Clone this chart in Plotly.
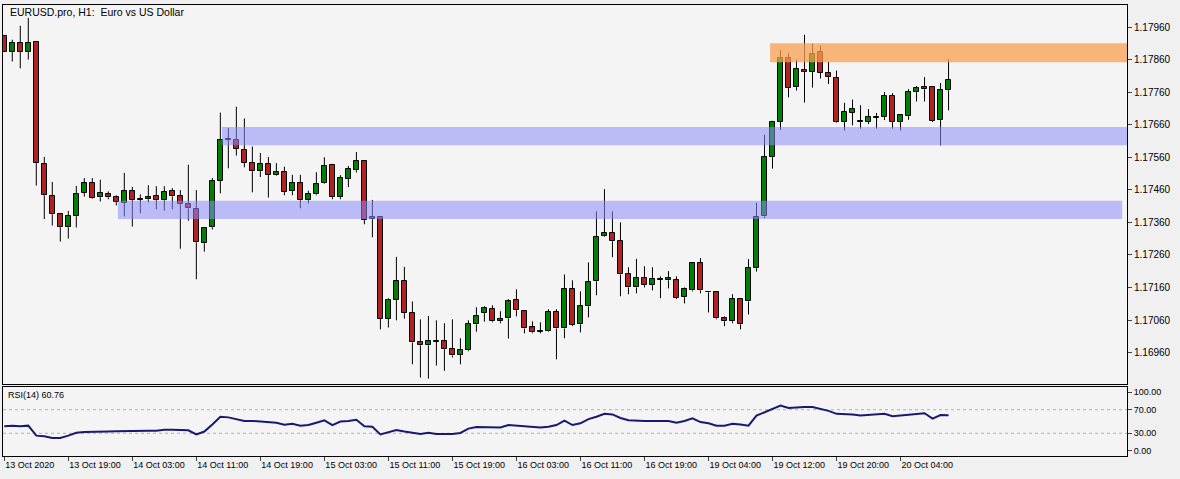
import plotly.graph_objects as go

opens = [1.17933,1.17883,1.17911,1.17883,1.17914,1.17539,1.17440,1.17385,1.17345,1.17379,
1.17450,1.17480,1.17437,1.17446,1.17437,1.17419,1.17456,1.17431,1.17431,1.17440,
1.17428,1.17456,1.17440,1.17416,1.17400,1.17296,1.17345,1.17488,1.17613,1.17613,
1.17582,1.17542,1.17517,1.17540,1.17505,1.17514,1.17456,1.17480,1.17428,1.17446,
1.17480,1.17537,1.17437,1.17493,1.17520,1.17548,1.17376,1.17376,1.17063,1.17121,
1.17179,1.17081,1.16991,1.16982,1.16994,1.16994,1.16970,1.16954,1.16967,1.17047,
1.17081,1.17093,1.17056,1.17065,1.17121,1.17087,1.17037,1.17025,1.17025,1.17084,
1.17034,1.17154,1.17047,1.17102,1.17179,1.17317,1.17327,1.17302,1.17200,1.17160,
1.17188,1.17167,1.17185,1.17182,1.17182,1.17130,1.17151,1.17234,1.17147,1.17145,
1.17065,1.17056,1.17124,1.17117,1.17219,1.17378,1.17560,1.17668,1.17865,1.17775,
1.17829,1.17822,1.17883,1.17819,1.17803,1.17668,1.17696,1.17671,1.17668,1.17683,
1.17683,1.17748,1.17668,1.17686,1.17760,1.17769,1.17775,1.17674,1.17766]
highs = [1.17935,1.17921,1.17964,1.17988,1.17914,1.17561,1.17484,1.17387,1.17395,1.17472,
1.17496,1.17496,1.17491,1.17455,1.17443,1.17512,1.17469,1.17446,1.17474,1.17471,
1.17471,1.17465,1.17459,1.17537,1.17459,1.17344,1.17496,1.17697,1.17650,1.17715,
1.17679,1.17593,1.17573,1.17561,1.17542,1.17531,1.17506,1.17506,1.17457,1.17514,
1.17560,1.17540,1.17505,1.17533,1.17576,1.17550,1.17429,1.17378,1.17127,1.17254,
1.17223,1.17117,1.17062,1.17072,1.17059,1.17050,1.17062,1.17004,1.17059,1.17099,
1.17102,1.17105,1.17087,1.17124,1.17154,1.17089,1.17056,1.17053,1.17093,1.17093,
1.17200,1.17182,1.17148,1.17237,1.17394,1.17462,1.17394,1.17360,1.17222,1.17248,
1.17225,1.17222,1.17194,1.17210,1.17194,1.17160,1.17236,1.17250,1.17148,1.17147,
1.17071,1.17139,1.17126,1.17247,1.17420,1.17629,1.17672,1.17890,1.17880,1.17860,
1.17936,1.17909,1.17903,1.17853,1.17826,1.17727,1.17737,1.17720,1.17708,1.17696,
1.17760,1.17757,1.17692,1.17769,1.17779,1.17806,1.17777,1.17788,1.17862]
lows = [1.17883,1.17854,1.17833,1.17860,1.17473,1.17370,1.17350,1.17301,1.17310,1.17344,
1.17439,1.17432,1.17424,1.17431,1.17412,1.17378,1.17347,1.17388,1.17421,1.17400,
1.17396,1.17400,1.17279,1.17365,1.17185,1.17270,1.17338,1.17449,1.17526,1.17565,
1.17529,1.17452,1.17499,1.17436,1.17503,1.17443,1.17443,1.17403,1.17418,1.17443,
1.17478,1.17431,1.17431,1.17468,1.17513,1.17354,1.17314,1.17031,1.17037,1.17059,
1.17064,1.16924,1.16883,1.16880,1.16920,1.16904,1.16945,1.16924,1.16964,1.17024,
1.17055,1.17053,1.17050,1.17003,1.17071,1.17019,1.17019,1.17019,1.17023,1.16939,
1.17004,1.17041,1.17022,1.17068,1.17136,1.17315,1.17253,1.17133,1.17139,1.17142,
1.17160,1.17151,1.17127,1.17157,1.17124,1.17111,1.17148,1.17142,1.17083,1.17062,
1.17041,1.17050,1.17031,1.17077,1.17209,1.17373,1.17525,1.17644,1.17744,1.17765,
1.17728,1.17774,1.17802,1.17785,1.17666,1.17642,1.17658,1.17648,1.17662,1.17648,
1.17674,1.17648,1.17642,1.17675,1.17731,1.17731,1.17668,1.17596,1.17704]
closes = [1.17883,1.17911,1.17883,1.17911,1.17542,1.17443,1.17385,1.17345,1.17379,1.17446,
1.17480,1.17434,1.17450,1.17437,1.17422,1.17456,1.17428,1.17430,1.17437,1.17428,
1.17453,1.17440,1.17416,1.17403,1.17299,1.17342,1.17486,1.17613,1.17616,1.17585,
1.17542,1.17517,1.17540,1.17505,1.17514,1.17453,1.17480,1.17428,1.17446,1.17477,
1.17534,1.17437,1.17496,1.17523,1.17548,1.17367,1.17370,1.17063,1.17121,1.17179,
1.17081,1.16991,1.16982,1.16994,1.16993,1.16970,1.16951,1.16967,1.17047,1.17071,
1.17096,1.17056,1.17062,1.17117,1.17090,1.17034,1.17022,1.17024,1.17084,1.17034,
1.17154,1.17044,1.17102,1.17176,1.17314,1.17327,1.17302,1.17200,1.17160,1.17188,
1.17167,1.17185,1.17184,1.17188,1.17127,1.17154,1.17234,1.17151,1.17145,1.17065,
1.17056,1.17124,1.17047,1.17219,1.17376,1.17560,1.17668,1.17865,1.17772,1.17831,
1.17822,1.17877,1.17819,1.17806,1.17668,1.17699,1.17708,1.17668,1.17683,1.17682,
1.17748,1.17668,1.17689,1.17760,1.17772,1.17775,1.17671,1.17766,1.17797]
rsi = [42,43,42,43,26,25,22,22,26,31,32,32,32,33,33.5,34,34,34.5,34.5,34.5,
36,36,35,35,28,33,45,58,57,54,51,51,50,49.5,48,44.5,46,43,44,48,
52,44,50,51,53,42,41,28,32,35.5,33,30.5,29,31,29,29,29,30.5,38,40.5,
40,39.5,40,44,43,41,40,40,41,44,51.5,44,47,54,58,63,62,56,52,51,
51,51,51,51,48,51,55.5,49,47,43,43,46,45,43,60,66,71,77,73,74,
74.5,74.5,71,68,63,63,62,60,61,61.5,63,59,60,61.5,63,64,55,61,60.76]
xtick_pos = [0,8,16,24,32,40,48,56,64,72,80,88,96,104,112]
xtick_text = ["13 Oct 2020","13 Oct 19:00","14 Oct 03:00","14 Oct 11:00","14 Oct 19:00",
 "15 Oct 03:00","15 Oct 11:00","15 Oct 19:00","16 Oct 03:00","16 Oct 11:00",
 "16 Oct 19:00","19 Oct 04:00","19 Oct 12:00","19 Oct 20:00","20 Oct 04:00"]
price_ticks = [1.16960,1.17060,1.17160,1.17260,1.17360,1.17460,1.17560,1.17660,1.17760,1.17860,1.17960]
rsi_ticks = [0,30,70,100]

n = len(opens)
idx = list(range(n))
GREEN, RED = "#008000", "#b22222"

wx, wy = [], []
for i in idx:
    top, bot = max(opens[i], closes[i]), min(opens[i], closes[i])
    wx += [i, i, None, i, i, None]
    wy += [highs[i], top, None, bot, lows[i], None]

base = [min(o, c) for o, c in zip(opens, closes)]
hgt = [max(abs(c - o), 0.00002) for o, c in zip(opens, closes)]
cols = [GREEN if c >= o else RED for o, c in zip(opens, closes)]

fig = go.Figure()
fig.add_trace(go.Scatter(x=wx, y=wy, mode="lines", line=dict(color="black", width=1),
                         hoverinfo="skip", showlegend=False, xaxis="x", yaxis="y"))
fig.add_trace(go.Bar(x=idx, y=hgt, base=base, width=0.65, marker=dict(color=cols, line=dict(color="black", width=1)),
                     showlegend=False, xaxis="x", yaxis="y"))
fig.add_trace(go.Scatter(x=idx, y=rsi, mode="lines", line=dict(color="#191970", width=2),
                         showlegend=False, xaxis="x2", yaxis="y2"))

xr = [-0.16, 140.3]
L, R = 3/1180, 1127/1180
TF = dict(size=9, family="Liberation Sans", color="black")
fig.update_layout(
    width=1180, height=479, margin=dict(l=0, r=0, t=0, b=0, autoexpand=False),
    paper_bgcolor="#f0f0f0", plot_bgcolor="#f4f4f4",
    font=dict(family="Liberation Sans", size=10, color="black"),
    bargap=0,
    xaxis=dict(domain=[L, R], range=xr, anchor="y", showticklabels=False, showgrid=False, zeroline=False,
               showline=True, mirror=True, linecolor="black", linewidth=1, ticks="", automargin=False),
    yaxis=dict(domain=[1-384/479, 1-5/479], range=[1.168634, 1.180276], side="right", anchor="x",
               tickvals=price_ticks, ticktext=[f"{v:.5f}" for v in price_ticks], ticks="outside", ticklen=4,
               showgrid=False, zeroline=False, showline=True, mirror=True, linecolor="black",
               tickfont=dict(size=10, family="Liberation Sans"), automargin=False),
    xaxis2=dict(domain=[L, R], range=xr, anchor="y2", showgrid=False, zeroline=False,
                tickvals=xtick_pos, ticktext=xtick_text, ticks="outside", ticklen=4, tickangle=0,
                ticklabelposition="outside right", tickfont=TF, automargin=False,
                showline=True, mirror=True, linecolor="black"),
    yaxis2=dict(domain=[1-456/479, 1-387/479], range=[-8.5, 108.5], side="right", anchor="x2",
                tickvals=rsi_ticks, ticktext=[f"{v:.2f}" for v in rsi_ticks], ticks="outside", ticklen=4,
                showgrid=False, zeroline=False, showline=True, mirror=True, linecolor="black",
                tickfont=TF, automargin=False),
)
for lv in (30, 70):
    fig.add_shape(type="line", xref="x2", yref="y2", x0=xr[0], x1=xr[1], y0=lv, y1=lv,
                  line=dict(color="#b0b0b0", width=1, dash="dot"), layer="below")
bands = [
    dict(x0=95.7, x1=141, y0=1.17852, y1=1.17910, color="rgba(250,160,80,0.75)"),
    dict(x0=27.2, x1=141, y0=1.17597, y1=1.17653, color="rgba(140,140,250,0.55)"),
    dict(x0=14.2, x1=139.7, y0=1.17370, y1=1.17426, color="rgba(140,140,250,0.55)"),
]
for b in bands:
    fig.add_shape(type="rect", xref="x", yref="y", x0=b["x0"], x1=b["x1"], y0=b["y0"], y1=b["y1"],
                  fillcolor=b["color"], line=dict(width=0), layer="above")
fig.add_annotation(x=8/1180, y=1-12/479, xref="paper", yref="paper", xanchor="left", yanchor="middle",
                   text="EURUSD.pro, H1:  Euro vs US Dollar", showarrow=False, font=dict(size=10.5))
fig.add_annotation(x=6/1180, y=1-395/479, xref="paper", yref="paper", xanchor="left", yanchor="middle",
                   text="RSI(14) 60.76", showarrow=False, font=dict(size=9))
fig.write_html("out.html", config={"displayModeBar": False},
               post_script="document.body.style.margin='0';document.body.style.overflow='hidden';")
